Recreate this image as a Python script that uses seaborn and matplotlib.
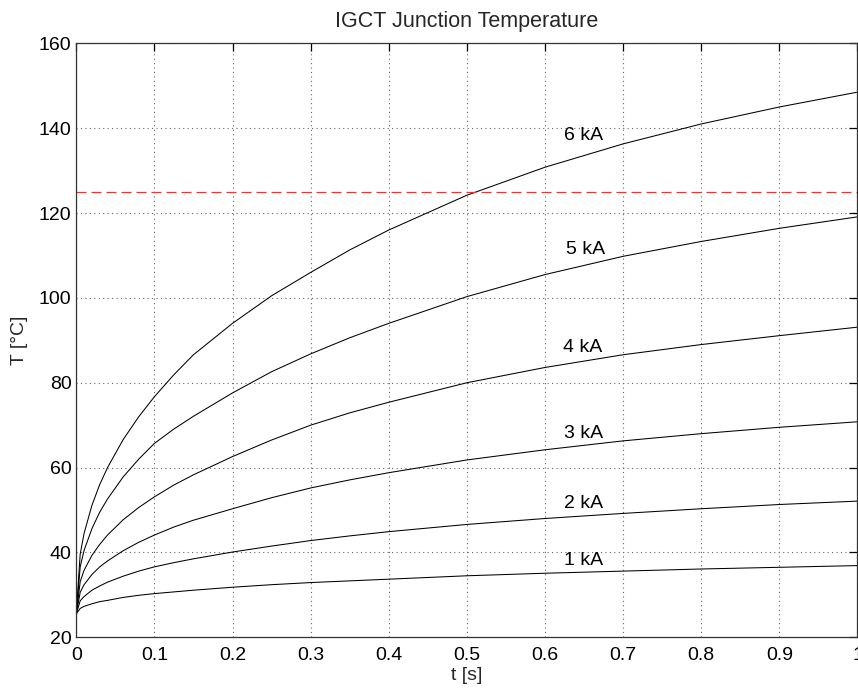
import matplotlib
matplotlib.use("Agg")
import matplotlib.pyplot as plt
import seaborn as sns
import pandas as pd

# ---- data ----
t = [0, 0.005, 0.01, 0.02, 0.03, 0.04, 0.06, 0.08, 0.1, 0.125, 0.15, 0.2,
     0.25, 0.3, 0.35, 0.4, 0.5, 0.6, 0.7, 0.8, 0.9, 1.0]
T_6kA = [25.5, 39.6, 44.5, 51.1, 56.0, 60.0, 66.6, 72.0, 76.7, 81.9, 86.6, 94.0,
         100.5, 106.0, 111.3, 116.0, 124.2, 130.8, 136.3, 141.0, 145.0, 148.5]
T_5kA = [25.5, 36.6, 40.5, 45.6, 49.5, 52.6, 57.8, 62.0, 65.7, 69.1, 72.1, 77.6,
         82.6, 86.8, 90.6, 94.0, 100.3, 105.5, 109.8, 113.3, 116.4, 119.1]
T_4kA = [25.5, 33.1, 35.8, 39.3, 41.9, 44.1, 47.7, 50.6, 53.1, 55.9, 58.3, 62.6,
         66.5, 70.0, 72.9, 75.4, 80.0, 83.6, 86.6, 89.0, 91.1, 93.1]
T_3kA = [25.5, 30.6, 32.4, 34.8, 36.6, 38.0, 40.4, 42.4, 44.1, 46.0, 47.6, 50.3,
         52.9, 55.2, 57.1, 58.8, 61.8, 64.2, 66.3, 68.0, 69.5, 70.8]
T_2kA = [25.5, 28.6, 29.6, 31.1, 32.1, 33.0, 34.4, 35.6, 36.6, 37.6, 38.5, 40.1,
         41.5, 42.8, 43.9, 44.9, 46.6, 48.0, 49.2, 50.3, 51.3, 52.1]
T_1kA = [25.5, 26.8, 27.3, 27.9, 28.4, 28.7, 29.4, 29.9, 30.3, 30.7, 31.1, 31.8,
         32.4, 32.9, 33.3, 33.7, 34.5, 35.1, 35.6, 36.1, 36.5, 36.9]

series = {"6 kA": T_6kA, "5 kA": T_5kA, "4 kA": T_4kA,
          "3 kA": T_3kA, "2 kA": T_2kA, "1 kA": T_1kA}
label_t = [0.65, 0.652, 0.648, 0.65, 0.65, 0.65]
label_T = [138.2, 111.3, 88.3, 68.1, 51.6, 38.0]
limit_T = 125

title = "IGCT Junction Temperature"
xlabel = "t [s]"
ylabel = "T [°C]"
xticks = [0, 0.1, 0.2, 0.3, 0.4, 0.5, 0.6, 0.7, 0.8, 0.9, 1]
xticklabels = ["0", "0.1", "0.2", "0.3", "0.4", "0.5", "0.6", "0.7", "0.8", "0.9", "1"]
yticks = [20, 40, 60, 80, 100, 120, 140, 160]

rows = []
for name, vals in series.items():
    for ti, Ti in zip(t, vals):
        rows.append({"t": ti, "T": Ti, "I": name})
df = pd.DataFrame(rows)

# ---- figure ----
sns.set_theme(style="white")
plt.rcParams["font.family"] = ["Liberation Sans", "DejaVu Sans"]
FS = 14

fig = plt.figure(figsize=(8.58, 6.88), dpi=100)
ax = fig.add_axes([0.0889, 0.0737, 0.9105, 0.8633])

sns.lineplot(data=df, x="t", y="T", hue="I", palette=["black"] * 6,
             legend=False, ax=ax, linewidth=0.75, sort=True)

ax.axhline(limit_T, color="#e03a3a", linestyle=(0, (8, 4)), linewidth=0.9)

for (name, _), lt, lT in zip(series.items(), label_t, label_T):
    ax.text(lt, lT, name, ha="center", va="center", fontsize=FS, color="black")

ax.set_xlim(0, 1)
ax.set_ylim(20, 160)
ax.set_xticks(xticks)
ax.set_xticklabels(xticklabels)
ax.set_yticks(yticks)
ax.grid(True, color="#666666", linestyle=(0, (1, 3)), linewidth=0.8)
ax.tick_params(direction="in", length=6, width=0.9, top=True, right=True,
               labelsize=FS, colors="black")
ax.tick_params(axis="x", pad=7)
ax.tick_params(axis="y", pad=3.5)
for sp in ax.spines.values():
    sp.set_visible(True)
    sp.set_color("#333333")
    sp.set_linewidth(0.9)

ax.set_title(title, fontsize=15.5, pad=12)
ax.set_xlabel(xlabel, fontsize=FS, labelpad=2)
ax.set_ylabel(ylabel, fontsize=FS, labelpad=8)

fig.savefig("out.png", dpi=100)
